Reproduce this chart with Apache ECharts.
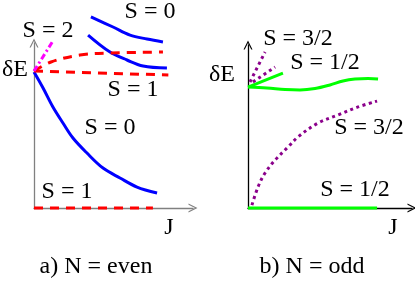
<!DOCTYPE html>
<html><head><meta charset="utf-8">
<script src="https://cdn.jsdelivr.net/npm/echarts@6/dist/echarts.min.js"></script>
<style>html,body{margin:0;padding:0;background:#fff}#c{width:415px;height:282px}</style>
</head><body><div id="c"></div>
<script>
// Panel a) N = even — points as [J, deltaE] (schematic units, both axes 0..10)
const evenS0Low   = [[0,8.24],[0.57,7.27],[1.19,6.12],[1.82,5.15],[2.45,4.24],[3.33,3.33],[4.34,2.42],[5.41,1.82],[6.48,1.27],[7.74,0.91]];
const evenS1Low   = [[0,0],[7.48,0]];
const evenS1Mid   = [[0,8.30],[8.45,8.06]];
const evenS1High  = [[0,8.30],[1.07,8.85],[2.89,9.27],[4.78,9.39],[8.11,9.45]];
const evenS0Top   = [[3.58,11.58],[4.97,10.97],[6.04,10.48],[7.11,10.24],[8.11,10.06]];
const evenS0Mid   = [[3.40,10.48],[4.78,9.45],[5.85,8.97],[6.86,8.61],[8.36,8.48]];
const evenS2      = [[0,8.30],[1.19,10.12]];
// Panel b) N = odd
const oddHalfHigh = [[0,7.42],[1.16,7.36],[2.26,7.27],[3.17,7.24],[4.09,7.33],[5.00,7.55],[5.79,7.79],[6.52,7.91],[7.32,7.94],[7.93,7.91]];
const oddHalfShort= [[0,7.42],[2.13,8.28]];
const oddThreeA   = [[0.12,7.73],[1.04,9.57]];
const oddThreeB   = [[0.30,7.73],[1.65,8.65]];
const oddThreeLow = [[0.24,0.18],[0.61,1.29],[1.04,2.15],[1.65,2.94],[2.44,3.74],[3.05,4.36],[4.27,5.21],[5.49,5.71],[6.71,6.20],[7.87,6.56]];
const oddHalfLow  = [[0,0],[7.87,0]];

const chev = 'path://M0,10 L5,0 L10,10 L8.6,10 L5,2.8 L1.4,10 Z';
function axes(color){
  return {show:true, symbol:['none', chev], symbolSize:[9,10], lineStyle:{color:color,width:1.3}};
}
function xA(i,c){return {type:'value',gridIndex:i,min:0,max:10,axisLine:axes(c),axisTick:{show:false},axisLabel:{show:false},splitLine:{show:false}};}
function yA(i,c){return {type:'value',gridIndex:i,min:0,max:10,axisLine:axes(c),axisTick:{show:false},axisLabel:{show:false},splitLine:{show:false}};}
function ser(data,g,color,type,smooth){
  return {type:'line',xAxisIndex:g,yAxisIndex:g,data:data,showSymbol:false,clip:false,smooth:smooth?0.35:false,
    lineStyle:{color:color,width:3,type:type,cap:'butt'},silent:true,animation:false};
}
function txt(s,x,y){
  return {type:'text',x:x,y:y,style:{text:s,fill:'#000',font:'24px "Liberation Serif"',align:'center',verticalAlign:'middle'}};
}
const chart = echarts.init(document.getElementById('c'));
chart.setOption({
  animation:false,
  grid:[{left:34,top:43,width:159,height:165},{left:248,top:45,width:164,height:163}],
  xAxis:[xA(0,'#808080'),xA(1,'#000')],
  yAxis:[yA(0,'#808080'),yA(1,'#000')],
  series:[
    ser(evenS0Low,0,'#0000ff','solid',true),
    ser(evenS0Top,0,'#0000ff','solid',true),
    ser(evenS0Mid,0,'#0000ff','solid',true),
    ser(evenS1Low,0,'#ff0000',[9,7],false),
    ser(evenS1Mid,0,'#ff0000',[9,7],false),
    ser(evenS1High,0,'#ff0000',[9,7],true),
    ser(evenS2,0,'#ff00ff',[6,3,2,3],false),
    ser(oddHalfHigh,1,'#00ff00','solid',true),
    ser(oddHalfShort,1,'#00ff00','solid',false),
    ser(oddHalfLow,1,'#00ff00','solid',false),
    ser(oddThreeA,1,'#8b008b',[3,3.5],false),
    ser(oddThreeB,1,'#8b008b',[3,3.5],false),
    ser(oddThreeLow,1,'#8b008b',[3,3.5],true)
  ],
  graphic:[
    txt('δE',15,70),
    txt('S = 2',48,31),
    txt('S = 0',150,12),
    txt('S = 1',133,90),
    txt('S = 0',110,128),
    txt('S = 1',67,192),
    txt('J',169,228),
    txt('a) N = even',96,267),
    txt('δE',222,75),
    txt('S = 3/2',298,39),
    txt('S = 1/2',325,63),
    txt('S = 3/2',369,128),
    txt('S = 1/2',355,190),
    txt('J',393,228),
    txt('b) N = odd',312,267)
  ]
});
</script></body></html>
